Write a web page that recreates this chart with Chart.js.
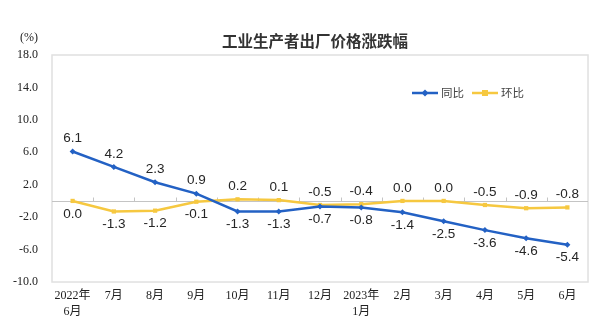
<!DOCTYPE html>
<html>
<head>
<meta charset="utf-8">
<script src="https://cdn.jsdelivr.net/npm/chart.js@4/dist/chart.umd.min.js"></script>
<style>
html,body{margin:0;padding:0;background:#fff;}
#wrap{width:607px;height:335px;position:relative;}
</style>
</head>
<body>
<div id="wrap"><canvas id="c" width="607" height="335"></canvas></div>
<script>
const categories = [['2022年','6月'],'7月','8月','9月','10月','11月','12月',['2023年','1月'],'2月','3月','4月','5月','6月'];
const yoyValues = [6.1, 4.2, 2.3, 0.9, -1.3, -1.3, -0.7, -0.8, -1.4, -2.5, -3.6, -4.6, -5.4];
const momValues = [0.0, -1.3, -1.2, -0.1, 0.2, 0.1, -0.5, -0.4, 0.0, 0.0, -0.5, -0.9, -0.8];
const seriesNames = ['同比', '环比'];
const titleText = '工业生产者出厂价格涨跌幅';
const unitText = '(%)';
const yTicks = [-10, -6, -2, 2, 6, 10, 14, 18];
// label placement: true = above
const yoyAbove = [true, true, true, true, false, false, false, false, false, false, false, false, false];
const momAbove = [false, false, false, false, true, true, true, true, true, true, true, true, true];

const BLUE = '#2361c4';
const YELLOW = '#f6c840';

const decor = {
  id: 'decor',
  beforeDatasetsDraw(chart) {
    const {ctx, chartArea: a, scales} = chart;
    ctx.save();
    ctx.strokeStyle = '#e0e0e0';
    ctx.lineWidth = 1.5;
    ctx.strokeRect(a.left, a.top, a.right - a.left, a.bottom - a.top);
    const y0 = Math.round(scales.y.getPixelForValue(0)) + 0.5;
    ctx.strokeStyle = '#c4c4c4';
    ctx.lineWidth = 1;
    ctx.beginPath();
    ctx.moveTo(a.left, y0); ctx.lineTo(a.right, y0);
    const n = categories.length;
    const w = (a.right - a.left) / n;
    for (let i = 1; i < n; i++) {
      const x = Math.round(a.left + i * w) + 0.5;
      ctx.moveTo(x, y0); ctx.lineTo(x, y0 - 4);
    }
    ctx.stroke();
    ctx.restore();
  },
  afterDatasetsDraw(chart) {
    const {ctx} = chart;
    ctx.save();
    ctx.font = '13.5px "Liberation Sans", Arial, sans-serif';
    ctx.fillStyle = '#262626';
    ctx.textAlign = 'center';
    ctx.textBaseline = 'middle';
    const sets = [[0, yoyValues, yoyAbove], [1, momValues, momAbove]];
    for (const [di, vals, above] of sets) {
      const meta = chart.getDatasetMeta(di);
      meta.data.forEach((pt, i) => {
        const off = above[i] ? -13 : 13;
        ctx.fillText(vals[i].toFixed(1), pt.x, pt.y + off);
      });
    }
    ctx.font = 'bold 15.5px "Noto Sans CJK SC", sans-serif';
    ctx.fillStyle = '#333';
    ctx.fillText(titleText, 315, 41);
    ctx.font = '12px "Liberation Serif", serif';
    ctx.fillStyle = '#222';
    ctx.fillText(unitText, 29, 38);
    const items = [[412, BLUE, 'rectRot', seriesNames[0]], [472, YELLOW, 'rect', seriesNames[1]]];
    for (const [x, col, shape, name] of items) {
      const y = 93;
      ctx.strokeStyle = col;
      ctx.lineWidth = 2.5;
      ctx.beginPath(); ctx.moveTo(x, y); ctx.lineTo(x + 26, y); ctx.stroke();
      ctx.fillStyle = col;
      ctx.beginPath();
      if (shape === 'rect') { ctx.rect(x + 13 - 3, y - 3, 6, 6); }
      else { ctx.moveTo(x + 13, y - 3.5); ctx.lineTo(x + 16.5, y); ctx.lineTo(x + 13, y + 3.5); ctx.lineTo(x + 9.5, y); ctx.closePath(); }
      ctx.fill();
      ctx.font = '11.5px "Noto Sans CJK SC", sans-serif';
      ctx.fillStyle = '#444';
      ctx.textAlign = 'left';
      ctx.fillText(name, x + 29, y);
    }
    ctx.restore();
  }
};

new Chart(document.getElementById('c'), {
  type: 'line',
  data: {
    labels: categories,
    datasets: [
      { label: seriesNames[0], data: yoyValues, borderColor: BLUE, backgroundColor: BLUE, borderWidth: 2.5,
        pointStyle: 'rectRot', pointRadius: 3, pointBorderWidth: 0, tension: 0 },
      { label: seriesNames[1], data: momValues, borderColor: YELLOW, backgroundColor: YELLOW, borderWidth: 2.5,
        pointStyle: 'rect', pointRadius: 3, pointBorderWidth: 0, tension: 0 }
    ]
  },
  options: {
    responsive: false,
    animation: false,
    events: [],
    layout: { padding: { top: 55, right: 19, bottom: 0, left: 0 } },
    plugins: { legend: { display: false }, tooltip: { enabled: false }, title: { display: false } },
    scales: {
      x: {
        offset: true,
        grid: { display: false, drawTicks: false },
        border: { display: false },
        ticks: { padding: 6, color: '#222', font: { family: '"Liberation Serif", "Noto Sans CJK SC", serif', size: 12, lineHeight: 1.35 }, maxRotation: 0, autoSkip: false },
        afterFit(s) { s.height = 53; }
      },
      y: {
        min: -10, max: 18,
        grid: { display: false, drawTicks: false },
        border: { display: false },
        afterBuildTicks(s) { s.ticks = yTicks.map(v => ({ value: v })); },
        ticks: { padding: 14, color: '#222', font: { family: '"Liberation Serif", serif', size: 12 }, callback: v => Number(v).toFixed(1) },
        afterFit(s) { s.width = 52; }
      }
    }
  },
  plugins: [decor]
});
</script>
</body>
</html>
